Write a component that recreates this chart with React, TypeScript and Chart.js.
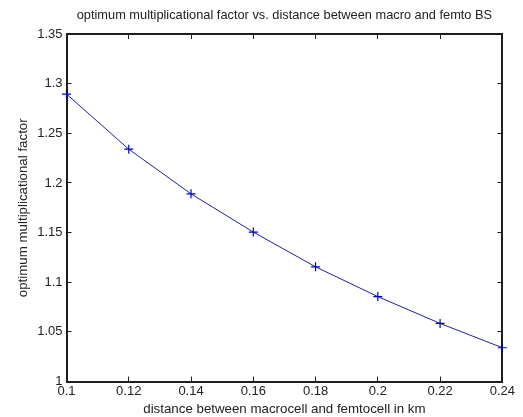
import React, { useEffect, useRef } from 'react';
import { Chart, registerables } from 'chart.js';

Chart.register(...registerables);

const distances = [0.1, 0.12, 0.14, 0.16, 0.18, 0.2, 0.22, 0.24];
const factors = [1.2895, 1.234, 1.189, 1.1505, 1.1155, 1.0855, 1.0585, 1.034];
const xTickValues = [0.1, 0.12, 0.14, 0.16, 0.18, 0.2, 0.22, 0.24];
const yTickValues = [1, 1.05, 1.1, 1.15, 1.2, 1.25, 1.3, 1.35];

const titleText = 'optimum multiplicational factor vs. distance between macro and femto BS';
const xTitle = 'distance between macrocell and femtocell in km';
const yTitle = 'optimum multiplicational factor';

const FONT = '"Liberation Sans", Arial, sans-serif';
const TEXT = '#222';

const fmt = (v: number) => String(Number(v.toFixed(2)));

const inwardGrid = {
  display: true,
  drawOnChartArea: false,
  drawTicks: true,
  tickLength: -5,
  color: 'rgb(30,30,30)',
  lineWidth: 1,
};
const frame = { display: true, color: 'rgb(30,30,30)', width: 2 };

export default function App() {
  const ref = useRef<HTMLCanvasElement | null>(null);
  useEffect(() => {
    if (!ref.current) return;
    const setX = (s: any) => {
      s.ticks = xTickValues.map((v) => ({ value: v }));
    };
    const setY = (s: any) => {
      s.ticks = yTickValues.map((v) => ({ value: v }));
    };
    const chart = new Chart(ref.current, {
      type: 'scatter',
      data: {
        datasets: [
          {
            data: distances.map((d, i) => ({ x: d, y: factors[i] })),
            showLine: true,
            borderColor: '#20209a',
            borderWidth: 1,
            pointStyle: 'cross',
            pointRadius: 4.5,
            pointBorderColor: '#0000c8',
            pointBorderWidth: 1.2,
            clip: false,
            xAxisID: 'x',
            yAxisID: 'y',
          } as any,
        ],
      },
      options: {
        responsive: false,
        animation: false,
        devicePixelRatio: 1,
        layout: { padding: { left: 16, right: 16, top: 0, bottom: 0 } },
        plugins: {
          legend: { display: false },
          tooltip: { enabled: false },
          title: { display: false },
        },
        scales: {
          x: {
            type: 'linear',
            position: 'bottom',
            min: 0.1,
            max: 0.24,
            grid: inwardGrid,
            border: frame,
            afterBuildTicks: setX,
            afterFit: (s: any) => {
              s.height = 35.5;
            },
            ticks: {
              color: TEXT,
              font: { family: FONT, size: 13, lineHeight: 1.1 },
              padding: 8,
              maxRotation: 0,
              autoSkip: false,
              callback: (v: any) => fmt(Number(v)),
            },
            title: {
              display: true,
              text: xTitle,
              color: TEXT,
              font: { family: FONT, size: 13.3, lineHeight: 1.1 },
              padding: 0,
            },
          },
          x2: {
            type: 'linear',
            position: 'top',
            min: 0.1,
            max: 0.24,
            grid: inwardGrid,
            border: frame,
            afterBuildTicks: setX,
            afterFit: (s: any) => {
              s.height = 34;
            },
            ticks: { display: false },
            title: {
              display: true,
              text: titleText,
              color: TEXT,
              font: { family: FONT, size: 12.8, lineHeight: 1.1 },
              padding: { top: 8, bottom: 0 },
            },
          },
          y: {
            type: 'linear',
            position: 'left',
            min: 1,
            max: 1.35,
            grid: inwardGrid,
            border: frame,
            afterBuildTicks: setY,
            afterFit: (s: any) => {
              s.width = 50.5;
            },
            ticks: {
              color: TEXT,
              font: { family: FONT, size: 13 },
              padding: 9,
              autoSkip: false,
              callback: (v: any) => fmt(Number(v)),
            },
            title: {
              display: true,
              text: yTitle,
              color: TEXT,
              font: { family: FONT, size: 13.3, lineHeight: 1.1 },
              padding: 0,
            },
          },
          y2: {
            type: 'linear',
            position: 'right',
            min: 1,
            max: 1.35,
            grid: inwardGrid,
            border: frame,
            afterBuildTicks: setY,
            afterFit: (s: any) => {
              s.width = 0;
            },
            ticks: { display: false },
          },
        },
      } as any,
    });
    return () => chart.destroy();
  }, []);
  return (
    <div style={{ position: 'fixed', left: 0, top: 0, width: 523, height: 417, background: '#fff' }}>
      <canvas ref={ref} width={523} height={417} style={{ width: 523, height: 417, display: 'block' }} />
    </div>
  );
}
